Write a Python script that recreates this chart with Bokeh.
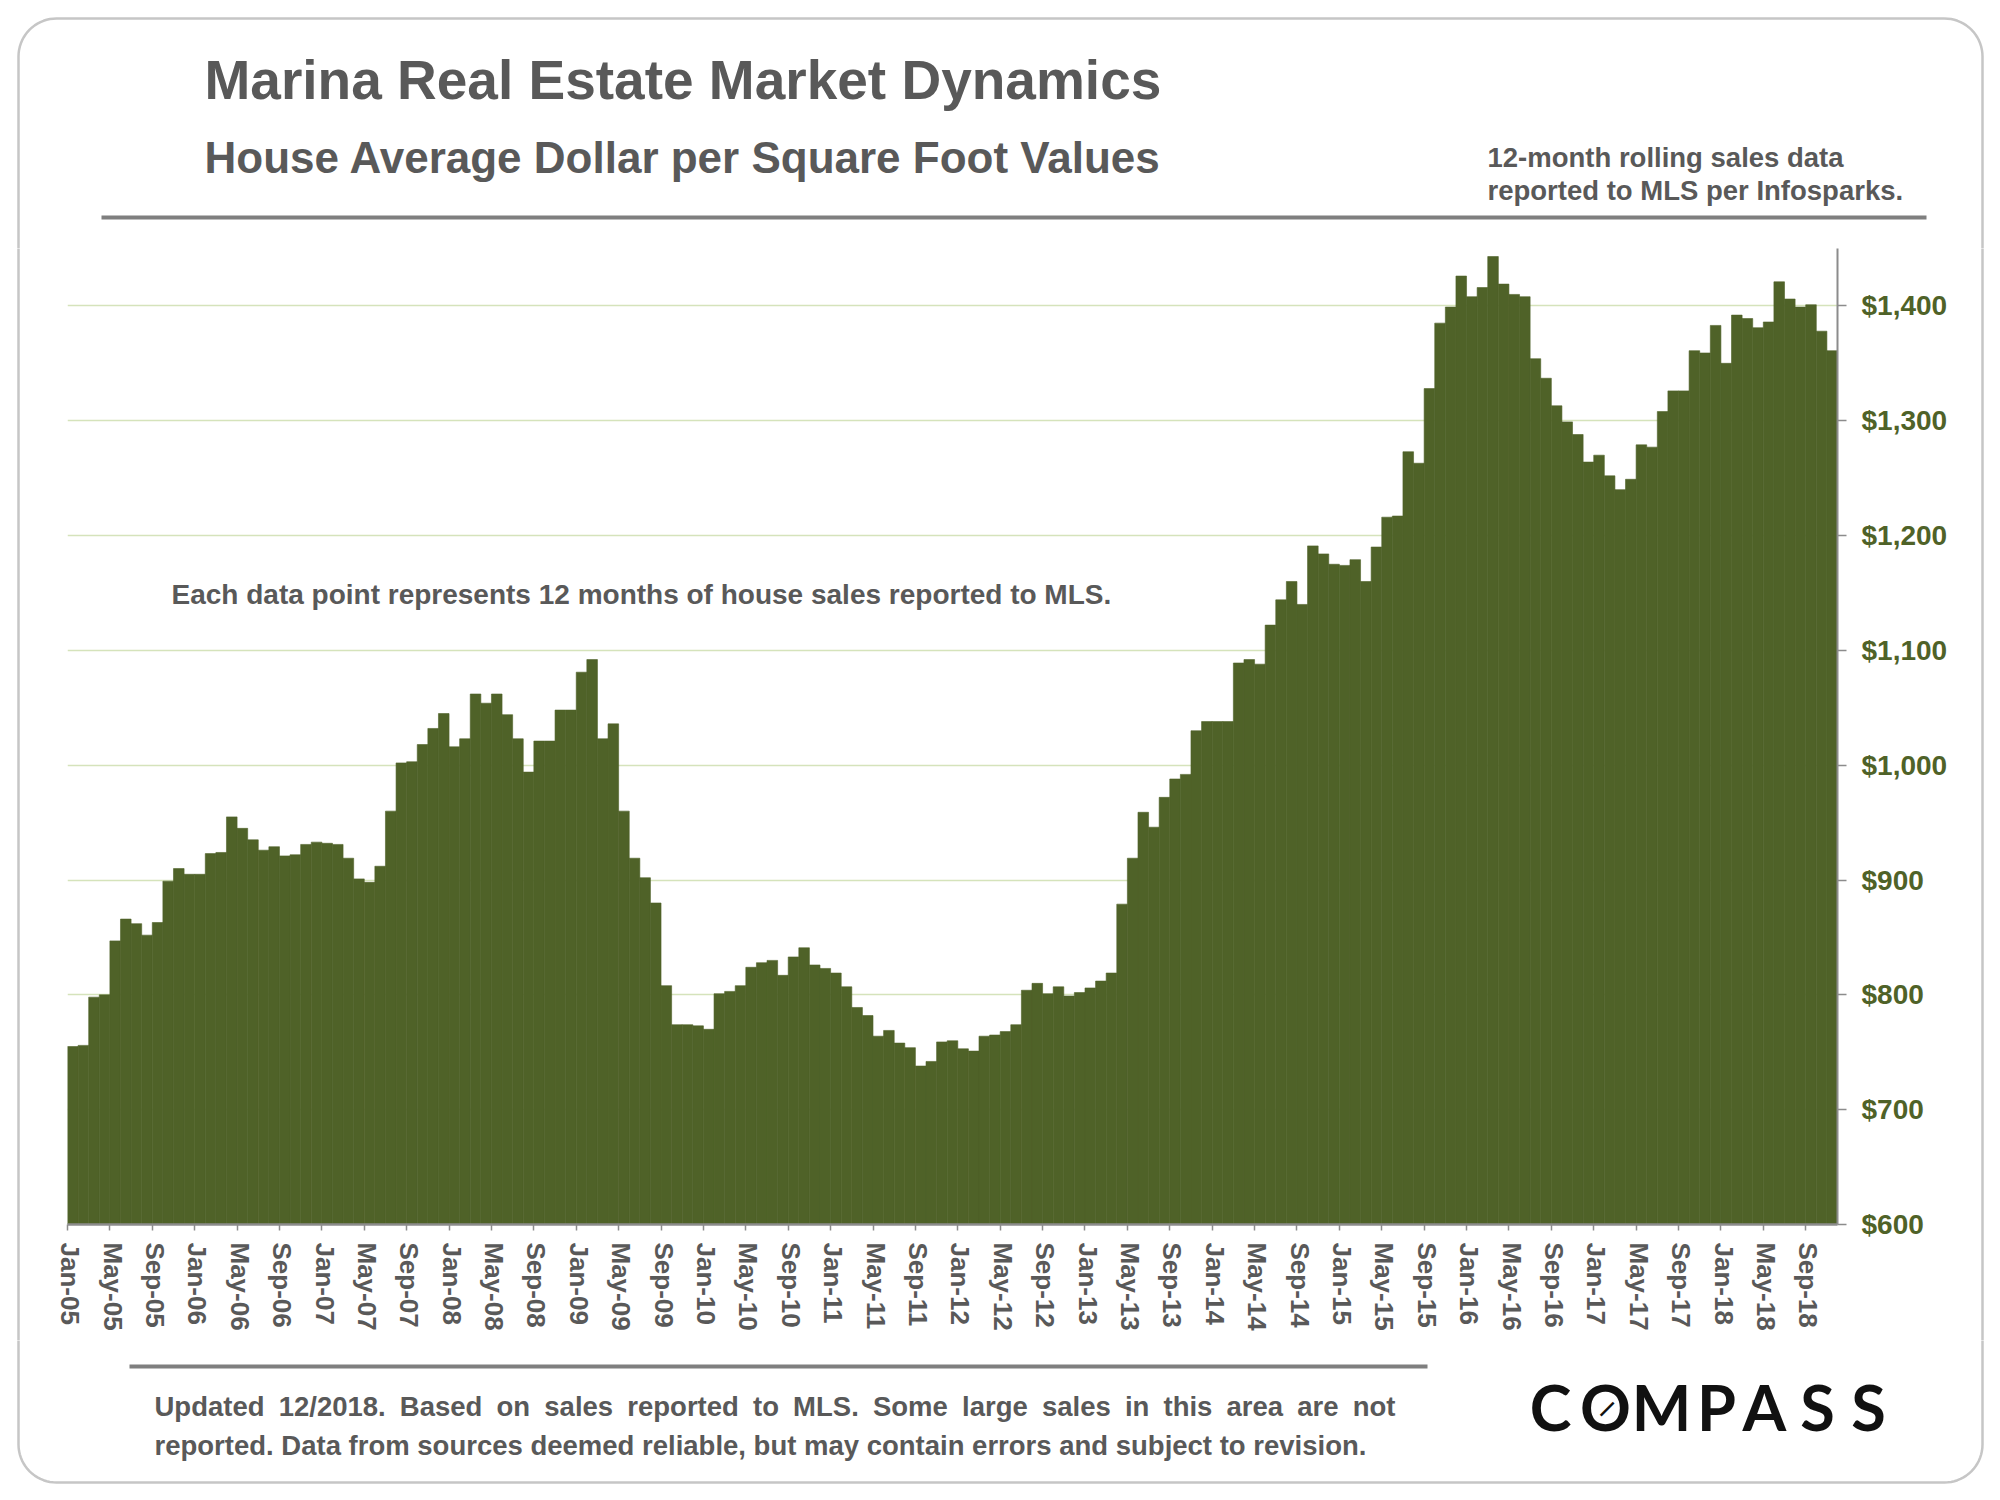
from bokeh.plotting import figure
from bokeh.layouts import column, row
from bokeh.models import (ColumnDataSource, FixedTicker, NumeralTickFormatter,
                          Label, Range1d)
from bokeh.embed import file_html
from bokeh.resources import INLINE
import math

# ---- data: 12-month rolling average $/sqft, monthly Jan-05 .. Nov-18 ----
v2005 = [755, 756, 798, 800, 847, 866, 862, 852, 863, 899, 910, 905]
v2006 = [905, 923, 924, 955, 945, 935, 926, 929, 921, 922, 931, 933]
v2007 = [932, 931, 919, 901, 898, 912, 960, 1002, 1003, 1018, 1032, 1045]
v2008 = [1016, 1023, 1062, 1054, 1062, 1044, 1023, 994, 1021, 1021, 1048, 1048]
v2009 = [1081, 1092, 1023, 1036, 960, 919, 902, 880, 808, 774, 774, 773]
v2010 = [770, 801, 803, 808, 824, 828, 830, 817, 833, 841, 826, 823]
v2011 = [819, 807, 789, 782, 764, 769, 758, 754, 738, 742, 759, 760]
v2012 = [753, 751, 764, 765, 768, 774, 804, 810, 801, 807, 799, 802]
v2013 = [806, 812, 819, 879, 919, 959, 946, 972, 988, 992, 1030, 1038]
v2014 = [1038, 1038, 1089, 1092, 1088, 1122, 1144, 1160, 1140, 1191, 1184, 1175]
v2015 = [1174, 1179, 1160, 1190, 1216, 1217, 1273, 1263, 1328, 1385, 1399, 1426]
v2016 = [1408, 1416, 1443, 1419, 1410, 1408, 1354, 1337, 1313, 1299, 1288, 1264]
v2017 = [1270, 1252, 1240, 1249, 1279, 1277, 1308, 1326, 1326, 1361, 1359, 1383]
v2018 = [1350, 1392, 1389, 1381, 1386, 1421, 1406, 1399, 1401, 1378, 1361]

tick_labels = ["Jan-05", "May-05", "Sep-05", "Jan-06", "May-06", "Sep-06",
               "Jan-07", "May-07", "Sep-07", "Jan-08", "May-08", "Sep-08",
               "Jan-09", "May-09", "Sep-09", "Jan-10", "May-10", "Sep-10",
               "Jan-11", "May-11", "Sep-11", "Jan-12", "May-12", "Sep-12",
               "Jan-13", "May-13", "Sep-13", "Jan-14", "May-14", "Sep-14",
               "Jan-15", "May-15", "Sep-15", "Jan-16", "May-16", "Sep-16",
               "Jan-17", "May-17", "Sep-17", "Jan-18", "May-18", "Sep-18"]
y_ticks = [600, 700, 800, 900, 1000, 1100, 1200, 1300, 1400]

values = (v2005 + v2006 + v2007 + v2008 + v2009 + v2010 + v2011 + v2012 +
          v2013 + v2014 + v2015 + v2016 + v2017 + v2018)
n = len(values)

FONT = "Liberation Sans"
GRAY = "#595959"
OLIVE = "#4F6228"
AXIS = "#8c8c8c"
RULE = "#7f7f7f"
BORDER = "#c6c6c6"
MID = 0.37  # distance (em) from alphabetic baseline up to the text middle

# page geometry (pixels)
PAGE_W, PAGE_H = 1984, 1484
HEAD_H = 248
MID_H = 1092
FOOT_H = PAGE_H - HEAD_H - MID_H
LEFT_W, RIGHT_W = 47, 24
MAIN_W = PAGE_W - LEFT_W - RIGHT_W

# rounded outer frame path (page coordinates)
bx, by = [], []
r = 38
corners = [(1982 - r, 18 + r, -90, 0), (1982 - r, 1482 - r, 0, 90),
           (18 + r, 1482 - r, 90, 180), (18 + r, 18 + r, 180, 270)]
for cx, cy, a0, a1 in corners:
    for k in range(0, 19):
        a = math.radians(a0 + (a1 - a0) * k / 18)
        bx.append(cx + r * math.cos(a))
        by.append(cy + r * math.sin(a))
bx.append(bx[0])
by.append(by[0])


def deco_fig(x0, y0, w, h):
    f = figure(width=w, height=h, x_range=Range1d(x0, x0 + w),
               y_range=Range1d(y0 + h, y0), output_backend="svg",
               toolbar_location=None, x_axis_location=None,
               y_axis_location=None, min_border=0)
    f.outline_line_color = None
    f.xgrid.visible = False
    f.ygrid.visible = False
    f.background_fill_color = "white"
    f.border_fill_color = "white"
    f.line(bx, by, line_color=BORDER, line_width=2.5)
    return f


def text(f, X, Y, s, size, color=GRAY, align="left", font=FONT, style="bold",
         angle=0.0):
    # (X, Y) = left/centre point on the alphabetic baseline, page pixels
    f.add_layout(Label(x=X, y=Y - MID * size, text=s, text_font=font,
                       text_font_style=style, text_font_size=f"{size}px",
                       text_color=color, text_align=align,
                       text_baseline="middle", angle=angle))


# ---------------- header ----------------
head = deco_fig(0, 0, PAGE_W, HEAD_H)
text(head, 204, 100, "Marina Real Estate Market Dynamics", 55)
text(head, 204, 173, "House Average Dollar per Square Foot Values", 44)
text(head, 1487, 167, "12-month rolling sales data", 27.5)
text(head, 1487, 200, "reported to MLS per Infosparks.", 27.5)
head.quad(left=101, right=1926, top=215, bottom=219, fill_color=RULE,
          line_color=None)

# ---------------- chart ----------------
p = figure(width=MAIN_W, height=MID_H, x_range=Range1d(0, n),
           y_range=Range1d(600, 1450), output_backend="svg",
           toolbar_location=None, y_axis_location="right",
           min_border_left=20, min_border_right=123, min_border_top=0,
           min_border_bottom=116)
p.outline_line_color = None
p.background_fill_color = "white"
p.border_fill_color = "white"
p.xgrid.visible = False
p.ygrid.grid_line_color = "#d5e3bb"
p.ygrid.grid_line_width = 1.5

src = ColumnDataSource(dict(x=[i + 0.5 for i in range(n)], v=values))
p.vbar(x="x", top="v", bottom=600, width=1.0, source=src,
       fill_color=OLIVE, line_color=OLIVE, line_width=0.6)

label_pos = [i + 0.25 for i in range(0, n, 4)]
xa = p.xaxis[0]
xa.ticker = FixedTicker(ticks=label_pos, minor_ticks=list(range(0, n, 4)))
xa.major_label_overrides = {t: s for t, s in zip(label_pos, tick_labels)}
xa.major_label_orientation = "vertical"
xa.major_tick_line_color = None
xa.major_tick_out = 6
xa.major_tick_in = 0
xa.minor_tick_line_color = AXIS
xa.minor_tick_line_width = 1.5
xa.minor_tick_out = 6
xa.minor_tick_in = 0
xa.axis_line_color = AXIS
xa.axis_line_width = 2.5
xa.major_label_standoff = 12
xa.major_label_text_font = FONT
xa.major_label_text_font_style = "bold"
xa.major_label_text_font_size = "26px"
xa.major_label_text_color = GRAY

ya = p.yaxis[0]
ya.ticker = FixedTicker(ticks=y_ticks)
ya.formatter = NumeralTickFormatter(format="$0,0")
ya.axis_line_color = AXIS
ya.axis_line_width = 2
ya.major_tick_line_color = AXIS
ya.major_tick_line_width = 1.5
ya.major_tick_out = 9
ya.major_tick_in = 0
ya.minor_tick_line_color = None
ya.major_label_standoff = 15
ya.major_label_text_font = FONT
ya.major_label_text_font_style = "bold"
ya.major_label_text_font_size = "28px"
ya.major_label_text_color = OLIVE

p.add_layout(Label(x=171 - 67, y=1224 - 604 + MID * 28, x_units="screen",
                   y_units="screen",
                   text="Each data point represents 12 months of  house sales reported to MLS.",
                   text_font=FONT, text_font_style="bold", text_font_size="28px",
                   text_color=GRAY, text_baseline="middle"))

left = deco_fig(0, HEAD_H, LEFT_W, MID_H)
right = deco_fig(PAGE_W - RIGHT_W, HEAD_H, RIGHT_W, MID_H)

# ---------------- footer ----------------
foot = deco_fig(0, HEAD_H + MID_H, PAGE_W, FOOT_H)
foot.quad(left=129, right=1427, top=1364, bottom=1368, fill_color=RULE,
          line_color=None)
AW = {"U": 722, "p": 611, "d": 611, "a": 556, "t": 333, "e": 556, "1": 556,
      "2": 556, "/": 278, "0": 556, "8": 556, ".": 278, "B": 722, "s": 556,
      "o": 611, "n": 611, "l": 278, "r": 389, "M": 833, "L": 611, "S": 667,
      "m": 889, "g": 611, "i": 278, "h": 611}
foot1 = "Updated 12/2018. Based on sales reported to MLS. Some large sales in this area are not"
foot2 = "reported. Data from sources deemed reliable, but may contain errors and subject to revision."
fsize = 27.5
words = foot1.split(" ")
wlen = [sum(AW.get(c, 556) for c in w) * fsize / 1000 for w in words]
gap = (1395 - 154 - sum(wlen)) / (len(words) - 1)
xpos = 154
for w, L in zip(words, wlen):
    text(foot, xpos, 1416, w, fsize)
    xpos += L + gap
text(foot, 154, 1455, foot2, fsize)

for ch, cx in zip("COMPASS", [1550, 1605, 1661, 1716, 1764, 1817, 1868]):
    text(foot, cx, 1429, ch, 63, color="#111111", align="center",
         font="Lato", style="bold")
foot.add_layout(Label(x=1605, y=1407, text="\u2014", text_font="Lato",
                      text_font_style="bold", text_font_size="27px",
                      text_color="#111111", text_align="center",
                      text_baseline="middle", angle=math.pi / 4))

layout = column(head, row(column(left), p, column(right), spacing=0), foot,
                spacing=0)
open("out.html", "w").write(file_html(layout, INLINE))
